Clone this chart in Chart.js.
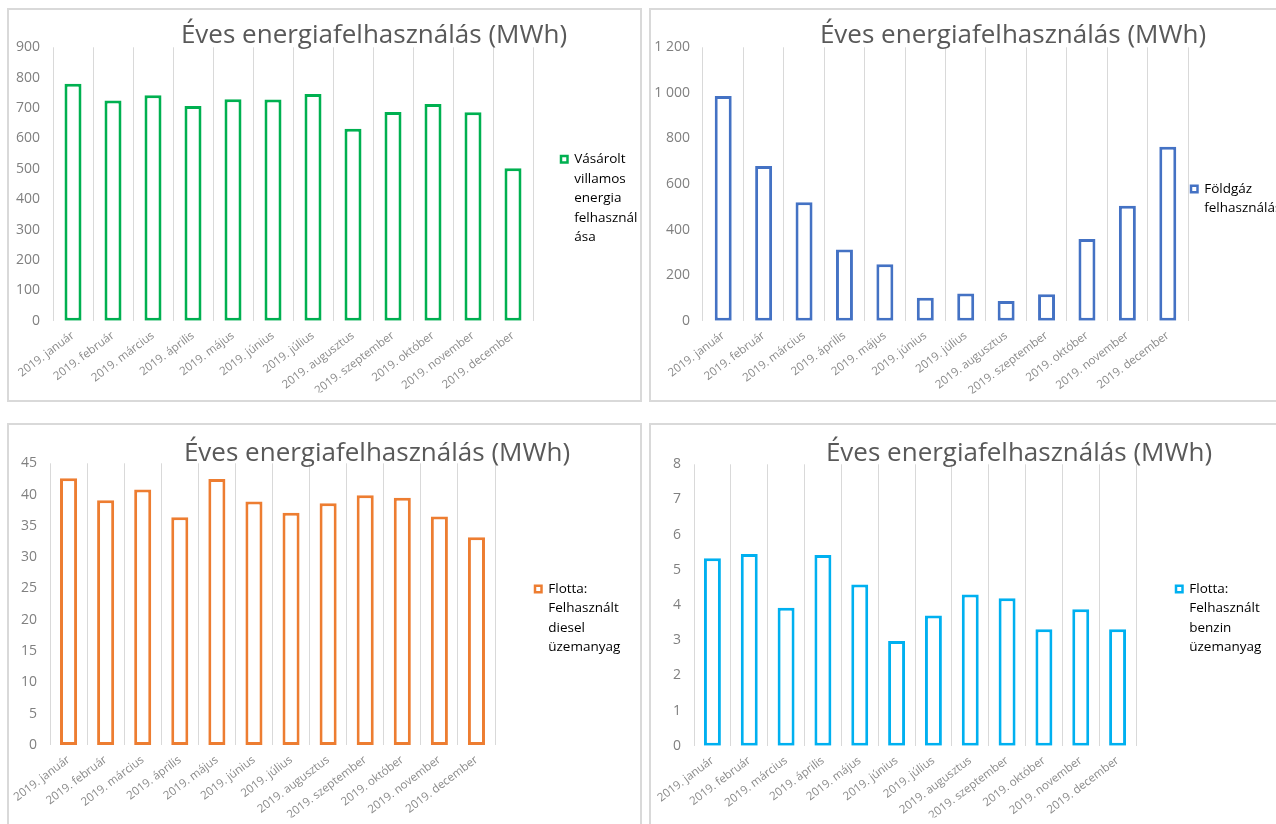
<!DOCTYPE html>
<html>
<head>
<meta charset="utf-8">
<script src="https://cdn.jsdelivr.net/npm/chart.js@4.4.1/dist/chart.umd.min.js"></script>
<style>
  body { margin: 0; background: #fff; width: 1276px; height: 824px; overflow: hidden; position: relative; }
  .panel { position: absolute; border: 2px solid #d9d9d9; overflow: hidden; background: #fff; }
  .panel div { position: absolute; left: 0; top: 0; }
</style>
</head>
<body>
<div class="panel" id="p1"><div><canvas id="c1"></canvas></div></div>
<div class="panel" id="p2"><div><canvas id="c2"></canvas></div></div>
<div class="panel" id="p3"><div><canvas id="c3"></canvas></div></div>
<div class="panel" id="p4"><div><canvas id="c4"></canvas></div></div>
<script>
// adatok
const honapok = ["2019. január", "2019. február", "2019. március", "2019. április", "2019. május", "2019. június",
	"2019. július", "2019. augusztus", "2019. szeptember", "2019. október", "2019. november", "2019. december"];

const villamos = [780, 725, 742, 707, 729, 728, 746, 632, 687, 713, 686, 502];
const foldgaz = [986, 679, 520, 312, 248, 101, 119, 86, 116, 359, 505, 763];
const diesel = [42.6, 39.1, 40.8, 36.4, 42.5, 38.9, 37.1, 38.6, 39.9, 39.5, 36.5, 33.2];
const benzin = [5.33, 5.45, 3.92, 5.42, 4.58, 2.98, 3.7, 4.3, 4.19, 3.31, 3.88, 3.31];

// y tengely: [max, lépés]
const villamosSkala = [900, 100];
const foldgazSkala = [1200, 200];
const dieselSkala = [45, 5];
const benzinSkala = [8, 1];

const villamosJelmagyarazat = ["Vásárolt", "villamos", "energia", "felhasznál", "ása"];
const foldgazJelmagyarazat = ["Földgáz", "felhasználás"];
const dieselJelmagyarazat = ["Flotta:", "Felhasznált", "diesel", "üzemanyag"];
const benzinJelmagyarazat = ["Flotta:", "Felhasznált", "benzin", "üzemanyag"];

const cim = "Éves energiafelhasználás (MWh)";

Chart.defaults.font.family = "'Open Sans', sans-serif";
Chart.defaults.color = "#7f7f7f";

// cím eltolása + jelmagyarázat ne vágja le a szöveget
const igazitas = {
	id: "igazitas",
	afterLayout(chart, args, o) {
		const t = chart.titleBlock;
		t.left += o.dx;
		t.right += o.dx;
		const l = chart.legend;
		l.right = chart.width;
		l.width = l.right - l.left;
	},
};

// panel elrendezés (belső koordináták)
const W = 631;
const LW = 90;
const panelek = [
	{ id: "1", left: 7, top: 8, h: 390, data: villamos, skala: villamosSkala, legend: villamosJelmagyarazat, color: "#00B050",
		L: 44, R: 524, T: 37.3, B: 310.7, tc: 365, lb: 552, yl1: 149.3, yt: 26, bar: 0.425 },
	{ id: "2", left: 649, top: 8, h: 390, data: foldgaz, skala: foldgazSkala, legend: foldgazJelmagyarazat, color: "#4472C4",
		L: 52, R: 537, T: 37.3, B: 310.7, tc: 362, lb: 540, yl1: 179, yt: 26, bar: 0.42 },
	{ id: "3", left: 7, top: 423, h: 400, data: diesel, skala: dieselSkala, legend: dieselJelmagyarazat, color: "#ED7D31",
		L: 41, R: 486, T: 38.3, B: 320, tc: 368, lb: 526, yl1: 164, yt: 28.5, bar: 0.46 },
	{ id: "4", left: 649, top: 423, h: 400, data: benzin, skala: benzinSkala, legend: benzinJelmagyarazat, color: "#00B0F0",
		L: 43, R: 485, T: 39.3, B: 320.7, tc: 368, lb: 525, yl1: 164, yt: 28.5, bar: 0.46 },
];

function ezres(v) {
	if (v >= 1000) return Math.floor(v / 1000) + " " + String(v % 1000).padStart(3, "0");
	return String(v);
}

panelek.forEach(function (p) {
	const panel = document.getElementById("p" + p.id);
	panel.style.left = p.left + "px";
	panel.style.top = p.top + "px";
	panel.style.width = W + "px";
	panel.style.height = p.h + "px";
	const wrap = panel.firstElementChild;
	wrap.style.width = W + "px";
	wrap.style.height = p.h + "px";

	const legendFont = 13.5, legendLH = 19.5;
	const titleSize = 26, titleLH = 0.8;
	const pr = W - p.R - LW;
	const pb = p.h - p.legend.length * legendLH - 2 * (p.yl1 - legendFont / 2);
	const xH = p.h - pb - p.B;
	const tpx = titleSize * titleLH;
	const tpT = p.yt - tpx / 2;
	const tpB = p.T - tpT - tpx;

	new Chart(document.getElementById("c" + p.id), {
		type: "bar",
		data: {
			labels: honapok,
			datasets: [
				{
					label: p.legend.join(" "),
					data: p.data,
					backgroundColor: "#ffffff",
					borderColor: p.color,
					borderWidth: 3,
					borderSkipped: false,
					barPercentage: p.bar,
					categoryPercentage: 1,
				},
			],
		},
		options: {
			responsive: true,
			maintainAspectRatio: false,
			animation: false,
			layout: { padding: { left: 0, top: 0, right: pr, bottom: pb } },
			scales: {
				x: {
					grid: { display: true, color: "#d9d9d9", lineWidth: 1, drawTicks: false, offset: true },
					border: { display: false },
					ticks: { autoSkip: false, minRotation: 37, maxRotation: 37, padding: 8, color: "#8a8a8a", font: { size: 11.5 } },
					afterFit: function (s) { s.height = xH; s.paddingLeft = 0; s.paddingRight = 0; },
				},
				y: {
					min: 0,
					max: p.skala[0],
					grid: { display: false, drawTicks: false },
					border: { display: false },
					ticks: { stepSize: p.skala[1], padding: 13, color: "#808080", font: { size: 14 }, callback: ezres },
					afterFit: function (s) { s.width = p.L; s.paddingTop = 0; s.paddingBottom = 0; },
				},
			},
			plugins: {
				tooltip: { enabled: false },
				igazitas: { dx: p.tc - (W - pr) / 2 },
				title: {
					display: true,
					text: cim,
					color: "#595959",
					font: { size: titleSize, weight: "normal", lineHeight: titleLH },
					padding: { top: tpT, bottom: tpB },
				},
				legend: {
					position: "right",
					maxWidth: LW,
					labels: {
						padding: p.lb - p.R,
						boxWidth: 6.5,
						boxHeight: 6.5,
						color: "#7f7f7f",
						font: { size: legendFont, lineHeight: legendLH / legendFont },
						generateLabels: function () {
							return [{ text: p.legend, fillStyle: "#ffffff", strokeStyle: p.color, lineWidth: 2.5, hidden: false, datasetIndex: 0 }];
						},
					},
				},
			},
		},
		plugins: [igazitas],
	});
});
</script>
</body>
</html>
